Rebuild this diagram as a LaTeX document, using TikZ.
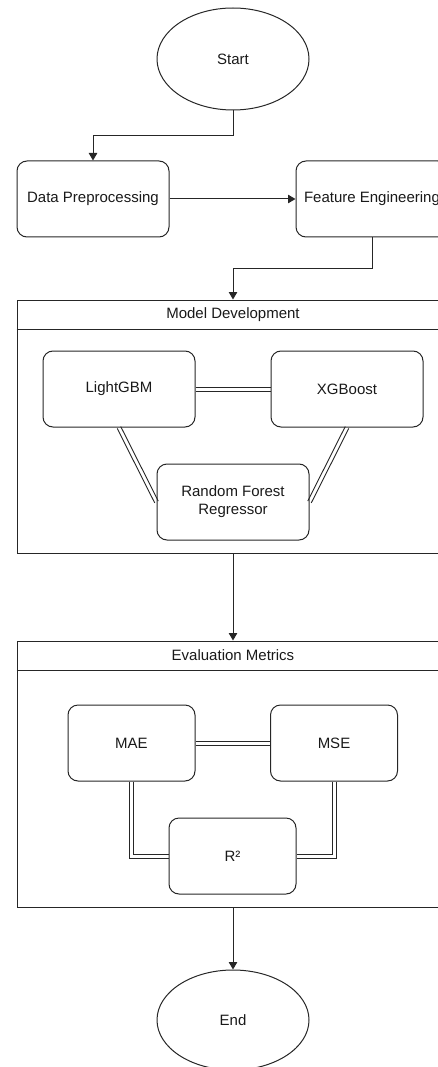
\documentclass[tikz,border=0pt]{standalone}
\usepackage{fontspec}
\setmainfont{Liberation Sans}
\usetikzlibrary{shapes.geometric,arrows.meta,calc}
\begin{document}
\begin{tikzpicture}[x=1pt,y=-1pt,
  every node/.style={font=\fontsize{15}{18}\selectfont, text=black!90},
  line/.style={draw=black!85, line width=1pt},
  arr/.style={line, -{Triangle[length=7.5pt,width=8.5pt]}},
  thin/.style={draw=black!85, line width=0.9pt},
  oval/.style={ellipse, line, minimum width=152pt, minimum height=102pt, inner sep=0pt},
  rbox/.style={rectangle, rounded corners=10pt, line, minimum width=152pt, minimum height=76pt, inner sep=0pt, align=center},
  sbox/.style={rbox, minimum width=127pt},
  cont/.style={rectangle, line, minimum width=432pt, inner sep=0pt}
]
\useasboundingbox (0,0) rectangle (438,1067);
\clip (0,0) rectangle (438,1067);

\node[oval] (start) at (233,59) {Start};
\node[rbox] (dp) at (93,199) {Data Preprocessing};
\node[rbox] (fe) at (372,199) {Feature Engineering};

% Model Development container
\node[cont, minimum height=253pt] (md) at (233,426.5) {};
\draw[line] (md.west |- 0,329) -- (md.east |- 0,329);
\node (mdh) at (233,314.5) {Model Development};
\node[rbox] (lgb) at (119,389) {LightGBM};
\node[rbox] (xgb) at (347,389) {XGBoost};
\node[rbox] (rf) at (233,502) {Random Forest\\Regressor};

% Evaluation Metrics container
\node[cont, minimum height=266pt] (em) at (233,774) {};
\draw[line] (em.west |- 0,670) -- (em.east |- 0,670);
\node (emh) at (233,655.5) {Evaluation Metrics};
\node[sbox] (mae) at (131.5,743) {MAE};
\node[sbox] (mse) at (334,743) {MSE};
\node[sbox] (r2) at (232.5,856) {R²};

\node[oval, minimum height=100pt] (end) at (233,1020) {End};

% connectors
\draw[arr] (start.south) -- ++(0,25) -| (dp.north);
\draw[arr] (dp.east) -- (fe.west);
\draw[arr] (fe.south) -- ++(0,31) -| (md.north);
\draw[arr] (md.south) -- (em.north);
\draw[arr] (em.south) -- (end.north);

% double links (two parallel strokes)
\draw[thin] ([yshift=2pt]lgb.east) -- ([yshift=2pt]xgb.west);
\draw[thin] ([yshift=-2pt]lgb.east) -- ([yshift=-2pt]xgb.west);
\draw[thin] ($(lgb.south)!2pt!90:(rf.west)$) -- ($(rf.west)!2pt!-90:(lgb.south)$);
\draw[thin] ($(lgb.south)!2pt!-90:(rf.west)$) -- ($(rf.west)!2pt!90:(lgb.south)$);
\draw[thin] ($(xgb.south)!2pt!90:(rf.east)$) -- ($(rf.east)!2pt!-90:(xgb.south)$);
\draw[thin] ($(xgb.south)!2pt!-90:(rf.east)$) -- ($(rf.east)!2pt!90:(xgb.south)$);

\draw[thin] ([yshift=2pt]mae.east) -- ([yshift=2pt]mse.west);
\draw[thin] ([yshift=-2pt]mae.east) -- ([yshift=-2pt]mse.west);
\draw[thin] ([xshift=-2pt]mae.south) |- ([yshift=-2pt]r2.west);
\draw[thin] ([xshift=2pt]mae.south) |- ([yshift=2pt]r2.west);
\draw[thin] ([xshift=2pt]mse.south) |- ([yshift=-2pt]r2.east);
\draw[thin] ([xshift=-2pt]mse.south) |- ([yshift=2pt]r2.east);
\end{tikzpicture}
\end{document}
